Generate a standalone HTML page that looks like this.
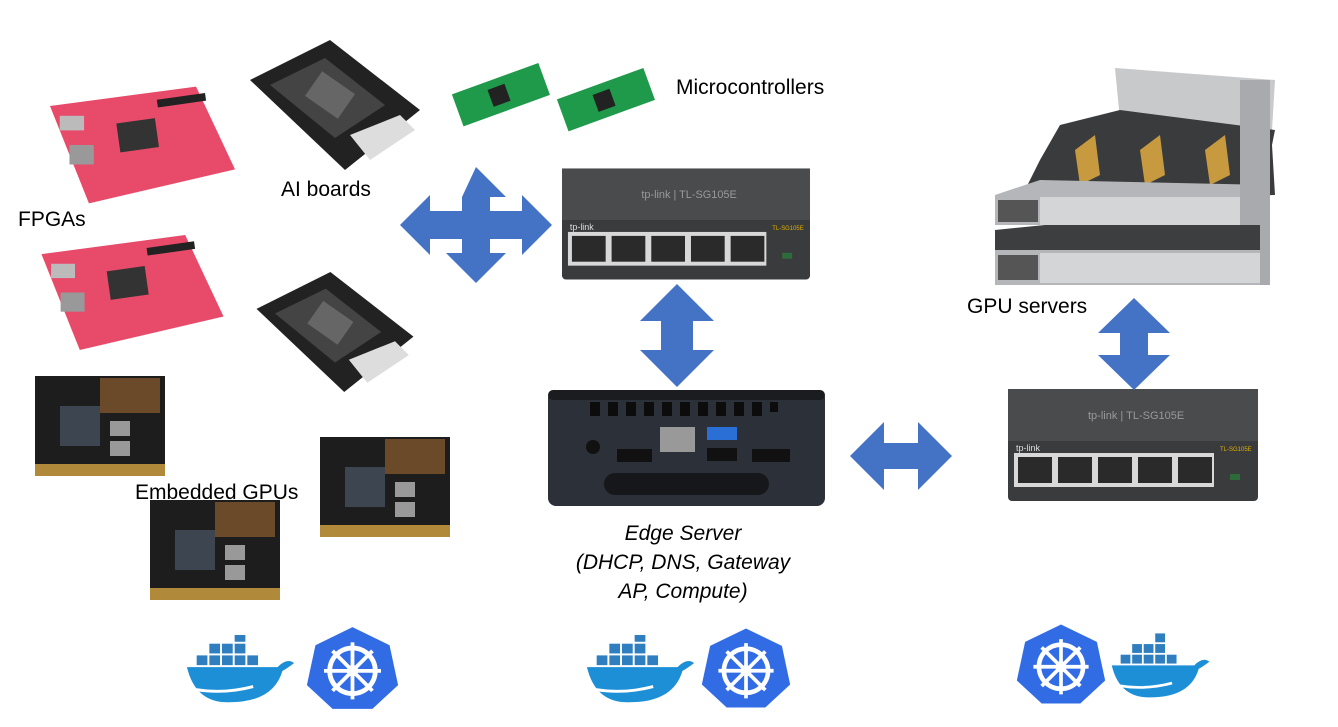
<!DOCTYPE html>
<html><head><meta charset="utf-8"><style>
html,body{margin:0;padding:0;background:#fff;}
svg{display:block;}
text{font-family:"Liberation Sans",sans-serif;fill:#000;}
</style></head><body>
<svg width="1338" height="727" viewBox="0 0 1338 727" xmlns="http://www.w3.org/2000/svg">
<defs>
<symbol id="sw" viewBox="0 0 250 112">
  <rect x="0" y="0" width="250" height="112" rx="4" fill="#3a3b3d"/>
  <rect x="0" y="0" width="250" height="52" fill="#4a4b4d"/>
  <rect x="6" y="64" width="200" height="34" fill="#d8d8d8"/>
  <g fill="#2a2a2a"><rect x="10" y="68" width="34" height="26"/><rect x="50" y="68" width="34" height="26"/><rect x="90" y="68" width="34" height="26"/><rect x="130" y="68" width="34" height="26"/><rect x="170" y="68" width="34" height="26"/></g>
  <rect x="222" y="85" width="10" height="6" fill="#2e6b3a"/>
  <text x="8" y="62" font-size="9" style="fill:#ddd">tp-link</text>
  <text x="80" y="30" font-size="11" style="fill:#999">tp-link | TL-SG105E</text>
  <text x="212" y="62" font-size="6" style="fill:#e0b000">TL-SG105E</text>
</symbol>
<symbol id="fpga" viewBox="0 0 190 120">
  <polygon points="0,20 150,0 190,85 40,120" fill="#e84a6a"/>
  <rect x="70" y="35" width="40" height="30" fill="#333" transform="rotate(-8 90 50)"/>
  <rect x="10" y="30" width="25" height="15" fill="#bbb"/>
  <rect x="20" y="60" width="25" height="20" fill="#999"/>
  <rect x="110" y="10" width="50" height="8" fill="#222" transform="rotate(-8 135 14)"/>
</symbol>
<symbol id="ai" viewBox="0 0 170 130">
  <polygon points="0,40 80,0 170,70 95,130" fill="#222"/>
  <polygon points="20,45 75,18 135,65 85,98" fill="#444"/>
  <polygon points="100,95 150,75 165,90 120,120" fill="#ddd"/>
  <rect x="60" y="40" width="40" height="30" fill="#666" transform="rotate(35 80 55)"/>
</symbol>
<symbol id="gpu" viewBox="0 0 130 100">
  <rect x="0" y="0" width="130" height="100" fill="#1d1d1d"/>
  <rect x="65" y="2" width="60" height="35" fill="#6b4a2a"/>
  <rect x="25" y="30" width="40" height="40" fill="#3d4550"/>
  <rect x="75" y="45" width="20" height="15" fill="#999"/>
  <rect x="75" y="65" width="20" height="15" fill="#999"/>
  <rect x="0" y="88" width="130" height="12" fill="#b08a3a"/>
</symbol>
<symbol id="whale" viewBox="0 0 115 70">
  <path d="M2,32 L95,32 Q105,22 112,28 Q104,34 100,36 Q90,70 40,68 Q10,66 2,32 Z" fill="#1d8fd6"/>
  <g fill="#2f7fc0"><rect x="12" y="20" width="11" height="10"/><rect x="25" y="20" width="11" height="10"/><rect x="38" y="20" width="11" height="10"/><rect x="51" y="20" width="11" height="10"/><rect x="64" y="20" width="11" height="10"/><rect x="25" y="8" width="11" height="10"/><rect x="38" y="8" width="11" height="10"/><rect x="51" y="8" width="11" height="10"/><rect x="51" y="-4" width="11" height="10"/></g>
  <path d="M10,55 Q40,60 70,52" stroke="#fff" stroke-width="3" fill="none"/>
</symbol>
<symbol id="k8s" viewBox="0 0 100 90">
  <polygon points="50,2 89,21 98,63 71,88 29,88 2,63 11,21" fill="#326ce5"/>
  <circle cx="50" cy="48" r="24" stroke="#fff" stroke-width="5" fill="none"/>
  <circle cx="50" cy="48" r="6" fill="#fff"/>
  <g stroke="#fff" stroke-width="4"><line x1="50" y1="18" x2="50" y2="78"/><line x1="20" y1="48" x2="80" y2="48"/><line x1="29" y1="27" x2="71" y2="69"/><line x1="71" y1="27" x2="29" y2="69"/></g>
</symbol>
</defs>

<use href="#fpga" x="50" y="85" width="185" height="120"/>
<use href="#fpga" x="40" y="235" width="185" height="115"/>
<text x="18" y="226" font-size="21">FPGAs</text>
<use href="#ai" x="250" y="40" width="170" height="130"/>
<use href="#ai" x="250" y="272" width="170" height="120"/>
<text x="281" y="196" font-size="21">AI boards</text>
<g transform="rotate(-20 500 95)"><rect x="455" y="78" width="92" height="34" fill="#1e9a4a"/><rect x="490" y="86" width="18" height="18" fill="#222"/></g>
<g transform="rotate(-20 605 100)"><rect x="560" y="83" width="92" height="34" fill="#1e9a4a"/><rect x="595" y="91" width="18" height="18" fill="#222"/></g>
<text x="676" y="94" font-size="21">Microcontrollers</text>
<polygon fill="#4472c4" points="476,167 506,197 490,197 490,211 522,211 522,195 552,225 522,255 522,239 490,239 490,253 506,253 476,283 446,253 462,253 462,239 430,239 430,255 400,225 430,195 430,211 462,211 462,197"/>
<use href="#sw" x="562" y="168" width="248" height="112"/>
<polygon fill="#4472c4" points="677,284 714,321 693,321 693,350 714,350 677,387 640,350 661,350 661,321 640,321"/>
<rect x="548" y="390" width="277" height="116" rx="8" fill="#2c3038"/>
<rect x="548" y="390" width="277" height="10" rx="5" fill="#1a1c20"/>
<g fill="#0c0c0c"><rect x="590" y="402" width="10" height="14"/><rect x="608" y="402" width="10" height="14"/><rect x="626" y="402" width="10" height="14"/><rect x="644" y="402" width="10" height="14"/><rect x="662" y="402" width="10" height="14"/><rect x="680" y="402" width="10" height="14"/><rect x="698" y="402" width="10" height="14"/><rect x="716" y="402" width="10" height="14"/><rect x="734" y="402" width="10" height="14"/><rect x="752" y="402" width="10" height="14"/><rect x="770" y="402" width="8" height="10"/></g>
<rect x="660" y="427" width="35" height="25" fill="#999"/>
<rect x="707" y="427" width="30" height="13" fill="#2a6fd6"/>
<rect x="707" y="448" width="30" height="13" fill="#111"/>
<rect x="617" y="449" width="35" height="13" fill="#111"/>
<rect x="752" y="449" width="38" height="13" fill="#111"/>
<rect x="604" y="473" width="165" height="22" rx="11" fill="#15171b"/>
<circle cx="593" cy="447" r="7" fill="#111"/>
<text x="683" y="540" font-size="21" font-style="italic" text-anchor="middle">Edge Server</text>
<text x="683" y="569" font-size="21" font-style="italic" text-anchor="middle">(DHCP, DNS, Gateway</text>
<text x="683" y="598" font-size="21" font-style="italic" text-anchor="middle">AP, Compute)</text>
<polygon fill="#4472c4" points="850,456 884,422 884,443 918,443 918,422 952,456 918,490 918,469 884,469 884,490"/>
<use href="#sw" x="1008" y="388" width="250" height="114"/>
<polygon fill="#4472c4" points="1134,298 1170,333 1148,333 1148,355 1170,355 1134,390 1098,355 1120,355 1120,333 1098,333"/>
<text x="967" y="313" font-size="21">GPU servers</text>
<!-- GPU servers -->
<polygon points="1115,68 1275,80 1272,130 1230,140 1120,120" fill="#c8c9cb"/>
<polygon points="1060,125 1120,110 1275,130 1272,145 1275,195 1020,200 1040,160" fill="#3a3b3d"/>
<g fill="#c89a40"><polygon points="1075,150 1095,135 1100,175 1080,185"/><polygon points="1140,150 1160,135 1165,175 1145,185"/><polygon points="1205,150 1225,135 1230,175 1210,185"/></g>
<polygon points="995,195 1040,180 1270,185 1270,225 995,225" fill="#b4b6b9"/>
<rect x="1040" y="197" width="230" height="28" fill="#d4d5d7"/>
<rect x="998" y="200" width="40" height="22" fill="#555"/>
<rect x="1240" y="80" width="30" height="205" fill="#a8aaad"/>
<polygon points="995,230 1045,225 1260,225 1260,250 995,250" fill="#3d3e40"/>
<rect x="995" y="250" width="265" height="35" fill="#b4b6b9"/>
<rect x="1040" y="253" width="220" height="30" fill="#d4d5d7"/>
<rect x="998" y="255" width="40" height="25" fill="#555"/>
<use href="#gpu" x="35" y="376" width="130" height="100"/>
<use href="#gpu" x="320" y="436" width="130" height="102"/>
<use href="#gpu" x="150" y="500" width="130" height="100"/>
<text x="135" y="499" font-size="21">Embedded GPUs</text>
<use href="#whale" x="185" y="635" width="112" height="70"/>
<use href="#k8s" x="305" y="625" width="95" height="86"/>
<use href="#whale" x="585" y="635" width="112" height="70"/>
<use href="#k8s" x="700" y="625" width="92" height="86"/>
<use href="#k8s" x="1015" y="620" width="92" height="88"/>
<use href="#whale" x="1110" y="632" width="102" height="72"/>
</svg>
</body></html>
